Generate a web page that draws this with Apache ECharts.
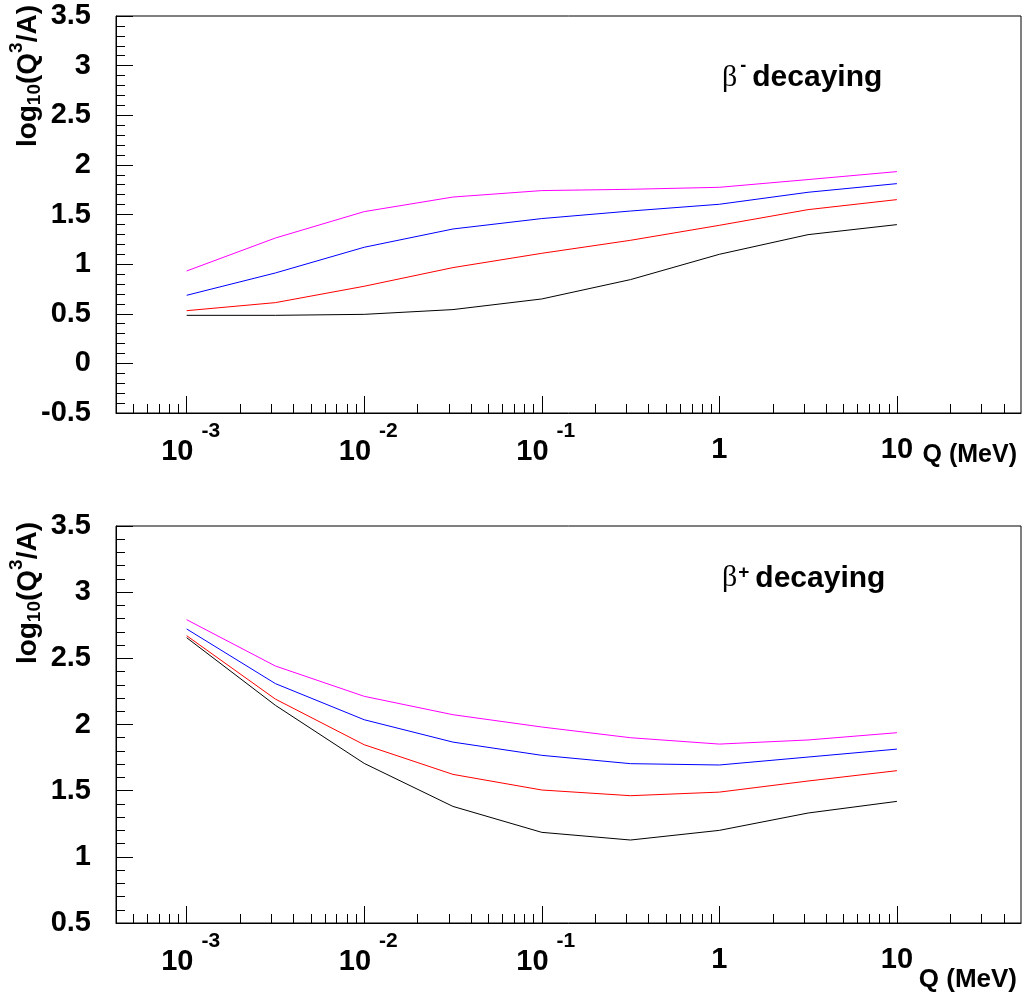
<!DOCTYPE html>
<html>
<head>
<meta charset="utf-8">
<script src="https://cdn.jsdelivr.net/npm/echarts@6/dist/echarts.min.js"></script>
<style>
  html, body { margin: 0; padding: 0; background: #fff; }
  #main { width: 1024px; height: 994px; }
</style>
</head>
<body>
<div id="main"></div>
<script>
// Q values (MeV), half-decade steps
const qValues = [0.001, 0.00316, 0.01, 0.0316, 0.1, 0.316, 1, 3.16, 10]

// beta- decaying
const minusBlack = [0.484, 0.484, 0.494, 0.542, 0.649, 0.844, 1.099, 1.297, 1.398]
const minusRed = [0.531, 0.612, 0.777, 0.965, 1.109, 1.240, 1.391, 1.549, 1.650]
const minusBlue = [0.686, 0.911, 1.170, 1.354, 1.459, 1.535, 1.603, 1.724, 1.811]
const minusMagenta = [0.931, 1.263, 1.529, 1.676, 1.741, 1.754, 1.774, 1.852, 1.932]

// beta+ decaying
const plusBlack = [2.656, 2.145, 1.706, 1.381, 1.185, 1.127, 1.200, 1.331, 1.419]
const plusRed = [2.671, 2.192, 1.847, 1.623, 1.505, 1.462, 1.489, 1.573, 1.651]
const plusBlue = [2.722, 2.309, 2.036, 1.867, 1.767, 1.704, 1.694, 1.754, 1.814]
const plusMagenta = [2.792, 2.442, 2.213, 2.074, 1.981, 1.900, 1.852, 1.883, 1.938]

const lineColors = ['#000000', '#ff0000', '#0000ff', '#ff00ff']

// x axis ticks
const majorTicks = [0.001, 0.01, 0.1, 1, 10]
const minorTicks = []
for (let e = -4; e <= 1; e++) {
  for (let m = 2; m <= 9; m++) {
    const v = +(m * Math.pow(10, e)).toPrecision(3)
    if (v > 0.0004 && v < 50 && majorTicks.indexOf(v) < 0) minorTicks.push(v)
  }
}

const SANS = 'Liberation Sans, Arial, Helvetica, sans-serif'
const SERIF = 'Liberation Serif, Times New Roman, serif'

const panels = [
  { top: 16, yMin: -0.5, yMax: 3.5, lines: [minusBlack, minusRed, minusBlue, minusMagenta],
    nameGapY: 11, qPad: 30, qSize: 25, title: '{g|β}{m|-}{t|decaying}', titleTop: 57 },
  { top: 526, yMin: 0.5, yMax: 3.5, lines: [plusBlack, plusRed, plusBlue, plusMagenta],
    nameGapY: 4, qPad: 44, qSize: 26, title: '{g|β}{p|+}{t|decaying}', titleTop: 563 }
]

function xLabel(v) {
  const e = Math.round(Math.log10(v))
  if (e === 0) return '{c|1}'
  if (e === 1) return '{c|10}'
  return '{b|10}{s|' + e + '}'
}

const option = {
  animation: false,
  backgroundColor: '#ffffff',
  title: [],
  grid: [],
  xAxis: [],
  yAxis: [],
  series: []
}

panels.forEach(function (p, i) {
  option.grid.push({
    left: 116, top: p.top, width: 905, height: 397,
    show: true, borderColor: '#000', borderWidth: 1,
    outerBoundsMode: 'none'
  })

  option.title.push({
    text: p.title,
    left: 722, top: p.titleTop, padding: 0,
    textStyle: {
      rich: {
        g: { fontFamily: SERIF, fontSize: 30, fontWeight: 'normal', color: '#000' },
        m: { fontFamily: SANS, fontSize: 18, fontWeight: 'bold', color: '#000', padding: [0, 0, 24, 3] },
        p: { fontFamily: SANS, fontSize: 19, fontWeight: 'bold', color: '#000', padding: [0, 0, 12, 1] },
        t: { fontFamily: SANS, fontSize: 30, fontWeight: 'bold', color: '#000', padding: [0, 0, 0, 6] }
      }
    }
  })

  // main x axis: decades with labels
  option.xAxis.push({
    gridIndex: i, type: 'log', logBase: 10, min: 0.0004, max: 50, position: 'bottom',
    axisLine: { show: true, onZero: false, lineStyle: { color: '#000', width: 1 } },
    axisTick: { show: true, inside: true, length: 17, customValues: majorTicks, lineStyle: { color: '#000' } },
    minorTick: { show: false },
    splitLine: { show: false },
    axisLabel: {
      customValues: majorTicks, margin: 8, color: '#000',
      formatter: xLabel,
      rich: {
        b: { fontFamily: SANS, fontSize: 29, fontWeight: 'bold', color: '#000', lineHeight: 58, padding: [0, 0, 0, 8] },
        c: { fontFamily: SANS, fontSize: 29, fontWeight: 'bold', color: '#000', lineHeight: 58 },
        s: { fontFamily: SANS, fontSize: 21, fontWeight: 'bold', color: '#000', padding: [0, 0, 41, 8] }
      }
    },
    name: 'Q (MeV)', nameLocation: 'end', nameGap: 0,
    nameTextStyle: {
      fontFamily: SANS, fontSize: p.qSize, fontWeight: 'bold', color: '#000',
      align: 'right', verticalAlign: 'top', padding: [p.qPad, 4, 0, 0]
    }
  })
  // minor x ticks (2..9 per decade)
  option.xAxis.push({
    gridIndex: i, type: 'log', logBase: 10, min: 0.0004, max: 50, position: 'bottom',
    axisLine: { show: false, onZero: false },
    axisTick: { show: true, inside: true, length: 9, customValues: minorTicks, lineStyle: { color: '#000' } },
    axisLabel: { show: false },
    splitLine: { show: false }
  })

  option.yAxis.push({
    gridIndex: i, type: 'value', min: p.yMin, max: p.yMax, interval: 0.5,
    axisLine: { show: true, onZero: false, lineStyle: { color: '#000', width: 1 } },
    axisTick: { show: true, inside: true, length: 17, lineStyle: { color: '#000' } },
    minorTick: { show: true, splitNumber: 5, length: 9, lineStyle: { color: '#000' } },
    splitLine: { show: false },
    axisLabel: { fontFamily: SANS, fontSize: 29, fontWeight: 'bold', color: '#000', margin: 25 },
    name: '{n|log}{d|10}{n|(Q}{u|3}{n|/A)}',
    nameLocation: 'end', nameRotate: 90, nameGap: p.nameGapY,
    nameTextStyle: {
      align: 'right', verticalAlign: 'bottom', padding: [0, 0, 66, 0],
      rich: {
        n: { fontFamily: SANS, fontSize: 28, fontWeight: 'bold', color: '#000', lineHeight: 40 },
        d: { fontFamily: SANS, fontSize: 19, fontWeight: 'bold', color: '#000', padding: [12, 0, 0, 0] },
        u: { fontFamily: SANS, fontSize: 19, fontWeight: 'bold', color: '#000', padding: [0, 0, 24, 0] }
      }
    }
  })

  p.lines.forEach(function (vals, k) {
    option.series.push({
      type: 'line',
      xAxisIndex: i * 2,
      yAxisIndex: i,
      data: qValues.map(function (q, j) { return [q, vals[j]] }),
      showSymbol: false,
      symbol: 'none',
      lineStyle: { color: lineColors[k], width: 1 },
      itemStyle: { color: lineColors[k] }
    })
  })
})

const chart = echarts.init(document.getElementById('main'), null, { renderer: 'canvas' })
chart.setOption(option)
</script>
</body>
</html>
